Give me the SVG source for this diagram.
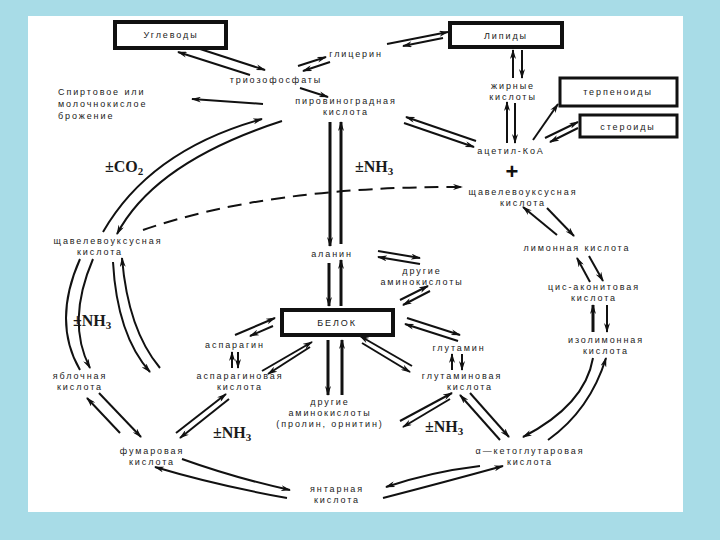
<svg xmlns="http://www.w3.org/2000/svg" width="720" height="540" viewBox="0 0 720 540">
<defs>
<marker id="a" viewBox="0 0 10 6" refX="9" refY="3" markerWidth="10" markerHeight="6" markerUnits="userSpaceOnUse" orient="auto">
<path d="M0,0 L10,3 L0,6 L3,3 z" fill="#111"/>
</marker>
<style>
.t{font-family:"Liberation Sans","DejaVu Sans",sans-serif;font-size:9px;letter-spacing:1.9px;fill:#1a1a1a;text-anchor:middle}
.l{text-anchor:start}
.f{font-family:"Liberation Serif","DejaVu Serif",serif;font-weight:bold;font-size:16px;fill:#1a1a1a}
.b{fill:#fff;stroke:#111;stroke-width:4}
.b3{fill:#fff;stroke:#111;stroke-width:3}
.c{fill:none;stroke:#111;stroke-width:2;marker-end:url(#a)}
.n{fill:none;stroke:#111;stroke-width:2}
.k{stroke-width:3}
.d{fill:none;stroke:#111;stroke-width:2;stroke-dasharray:14 8;marker-end:url(#a)}
</style>
</defs>
<rect x="0" y="0" width="720" height="540" fill="#a8dce7"/>
<rect x="28" y="16" width="655" height="496" fill="#fff"/>

<g id="connectors">
<path class="c" d="M197,48 L265,70"/>
<path class="c" d="M250,75 L178,52"/>
<path class="c" d="M298,66 L326,57"/>
<path class="c" d="M330,62 L303,71"/>
<path class="c" d="M387,44 L448,32"/>
<path class="c" d="M443,38 L403,46"/>
<path class="c" d="M300,88 L328,97"/>
<path class="c" d="M263,104 L192,99"/>
<path class="c" d="M103,232 Q150,150 262,119"/>
<path class="c" d="M282,121 Q155,162 117,234"/>
<path class="c" d="M476,141 L406,117"/>
<path class="c" d="M404,123 L474,147"/>
<path class="c" d="M513,78 L513,50"/>
<path class="c" d="M522,50 L522,78"/>
<path class="c" d="M507,143 L507,102"/>
<path class="c" d="M515,103 L515,143"/>
<path class="c" d="M533,140 L558,104"/>
<path class="c" d="M545,138 L578,122"/>
<path class="c" d="M578,128 L550,142"/>
<path class="c" d="M557,235 L523,207"/>
<path class="c" d="M547,208 L574,236"/>
<path class="d" d="M143,230 Q270,186 462,187"/>
<path class="c k" d="M330,122 L330,246"/>
<path class="c k" d="M341,244 L341,122"/>
<path class="c k" d="M329,263 L329,306"/>
<path class="c k" d="M341,306 L341,260"/>
<path class="c" d="M378,251 L420,258"/>
<path class="c" d="M420,264 L378,257"/>
<path class="c" d="M400,300 L428,286"/>
<path class="c" d="M430,291 L403,305"/>
<path class="c" d="M407,318 L460,335"/>
<path class="c" d="M458,341 L405,324"/>
<path class="c" d="M452,370 L452,354"/>
<path class="c" d="M462,354 L462,370"/>
<path class="c" d="M412,366 L360,336"/>
<path class="c" d="M362,343 L410,372"/>
<path class="c k" d="M328,340 L328,395"/>
<path class="c k" d="M342,395 L342,340"/>
<path class="c" d="M262,371 L312,342"/>
<path class="c" d="M310,347 L268,374"/>
<path class="c" d="M235,335 L275,318"/>
<path class="c" d="M273,326 L250,336"/>
<path class="c" d="M232,368 L232,352"/>
<path class="c" d="M238,352 L238,368"/>
<path class="c" d="M176,433 L226,394"/>
<path class="c" d="M229,399 L180,438"/>
<path class="c" d="M400,421 L452,393"/>
<path class="c" d="M450,399 L403,427"/>
<path class="c" d="M500,440 L460,395"/>
<path class="c" d="M470,393 L509,437"/>
<path class="c" d="M593,358 Q585,405 523,437"/>
<path class="c" d="M548,440 Q590,410 606,358"/>
<path class="c" d="M480,466 Q430,472 386,487"/>
<path class="c" d="M383,498 Q445,482 503,466"/>
<path class="c" d="M182,459 Q235,478 290,490"/>
<path class="c" d="M287,498 Q215,485 155,467"/>
<path class="c" d="M120,433 L87,398"/>
<path class="c" d="M99,393 L141,437"/>
<path class="n" d="M80,259 Q52,322 80,370"/>
<path class="c" d="M93,259 Q66,322 90,368"/>
<path class="c" d="M113,262 Q117,335 150,372"/>
<path class="c" d="M160,368 Q128,330 122,258"/>
<path class="c" d="M590,282 L577,258"/>
<path class="c" d="M589,256 L603,281"/>
<path class="c k" d="M593,332 L593,305"/>
<path class="c" d="M607,305 L607,332"/>
</g>

<g id="uglevody"><rect class="b" x="115" y="22" width="111" height="26"/><text class="t" x="171" y="38">Углеводы</text></g>
<g id="lipidy"><rect class="b" x="450" y="23" width="112" height="24"/><text class="t" x="506" y="39">Липиды</text></g>
<g id="terpenoidy"><rect class="b3" x="560" y="78" width="117" height="28"/><text class="t" x="618" y="95">терпеноиды</text></g>
<g id="steroidy"><rect class="b3" x="580" y="115" width="97" height="22"/><text class="t" x="628" y="130">стероиды</text></g>
<g id="belok"><rect class="b" x="282" y="310" width="111" height="25"/><text class="t" x="337" y="326">БЕЛОК</text></g>

<g id="glicerin"><text class="t" x="356" y="57">глицерин</text></g>
<g id="triozofosfaty"><text class="t" x="276" y="83">триозофосфаты</text></g>
<g id="brozhenie"><text class="t l" x="58" y="95">Спиртовое или</text><text class="t l" x="58" y="107">молочнокислое</text><text class="t l" x="58" y="119">брожение</text></g>
<g id="piruvat"><text class="t" x="346" y="104">пировиноградная</text><text class="t" x="346" y="115">кислота</text></g>
<g id="zhirnye"><text class="t" x="513" y="89">жирные</text><text class="t" x="513" y="100">кислоты</text></g>
<g id="acetil"><text class="t" x="511" y="154">ацетил-КоА</text><text x="512" y="179" style="font-family:'Liberation Sans',sans-serif;font-weight:bold;font-size:22px;text-anchor:middle;fill:#111">+</text></g>
<g id="oksaloacetat-r"><text class="t" x="523" y="195">щавелевоуксусная</text><text class="t" x="523" y="206">кислота</text></g>
<g id="limonnaya"><text class="t" x="577" y="251">лимонная кислота</text></g>
<g id="cisakonit"><text class="t" x="594" y="290">цис-аконитовая</text><text class="t" x="594" y="301">кислота</text></g>
<g id="izolimon"><text class="t" x="606" y="343">изолимонная</text><text class="t" x="606" y="354">кислота</text></g>
<g id="ketoglutar"><text class="t" x="530" y="454">α—кетоглутаровая</text><text class="t" x="530" y="465">кислота</text></g>
<g id="glutamin"><text class="t" x="459" y="351">глутамин</text></g>
<g id="glutaminovaya"><text class="t" x="462" y="379">глутаминовая</text><text class="t" x="470" y="390">кислота</text></g>
<g id="drugie-r"><text class="t" x="422" y="274">другие</text><text class="t" x="422" y="285">аминокислоты</text></g>
<g id="alanin"><text class="t" x="332" y="257">аланин</text></g>
<g id="oksaloacetat-l"><text class="t" x="108" y="244">щавелевоуксусная</text><text class="t" x="100" y="255">кислота</text></g>
<g id="yablochnaya"><text class="t" x="80" y="379">яблочная</text><text class="t" x="80" y="390">кислота</text></g>
<g id="asparagin"><text class="t" x="235" y="348">аспарагин</text></g>
<g id="asparaginovaya"><text class="t" x="240" y="379">аспарагиновая</text><text class="t" x="240" y="390">кислота</text></g>
<g id="drugie-b"><text class="t" x="330" y="405">другие</text><text class="t" x="330" y="416">аминокислоты</text><text class="t" x="330" y="427">(пролин, орнитин)</text></g>
<g id="fumarovaya"><text class="t" x="152" y="454">фумаровая</text><text class="t" x="152" y="465">кислота</text></g>
<g id="yantarnaya"><text class="t" x="337" y="492">янтарная</text><text class="t" x="337" y="503">кислота</text></g>

<g id="labels">
<text class="f" x="355" y="172">±NH<tspan font-size="11" dy="3">3</tspan></text>
<text class="f" x="105" y="172">±CO<tspan font-size="11" dy="3">2</tspan></text>
<text class="f" x="73" y="326">±NH<tspan font-size="11" dy="3">3</tspan></text>
<text class="f" x="213" y="438">±NH<tspan font-size="11" dy="3">3</tspan></text>
<text class="f" x="425" y="432">±NH<tspan font-size="11" dy="3">3</tspan></text>
</g>
</svg>
